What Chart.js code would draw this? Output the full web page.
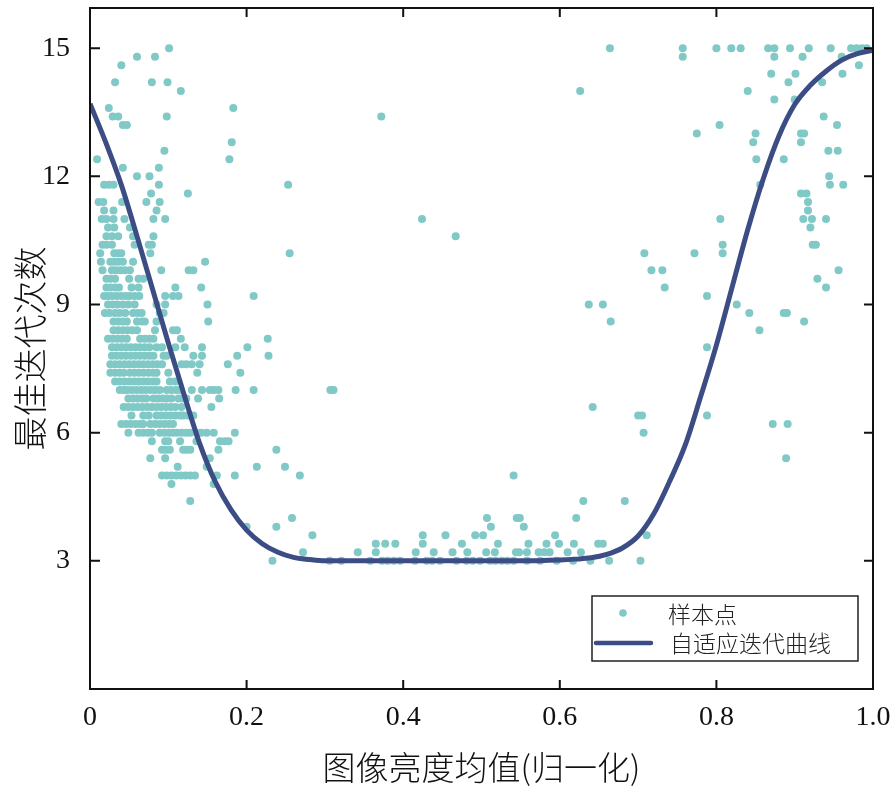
<!DOCTYPE html>
<html>
<head>
<meta charset="utf-8">
<script src="https://cdn.jsdelivr.net/npm/chart.js@4.4.1/dist/chart.umd.min.js"></script>
<style>
  html, body { margin: 0; padding: 0; background: #fff; }
  canvas { display: block; }
</style>
</head>
<body>
<canvas id="chart" width="893" height="790"></canvas>
<script>
// Подписи и деления осей
const xTickLabels = ['0', '0.2', '0.4', '0.6', '0.8', '1.0'];
const xTickValues = [0, 0.2, 0.4, 0.6, 0.8, 1.0];
const yTickValues = [3, 6, 9, 12, 15];
const legendLabels = ['样本点', '自适应迭代曲线'];

// Точки выборки: [y, [x, x, ...]] — левое скопление
const leftRows = [
  [15.0, [0.101]],
  [14.8, [0.060, 0.083]],
  [14.6, [0.040]],
  [14.2, [0.032, 0.079, 0.099]],
  [14.0, [0.116]],
  [13.6, [0.024, 0.183]],
  [13.4, [0.029, 0.036, 0.098]],
  [13.2, [0.042, 0.047]],
  [12.8, [0.181]],
  [12.6, [0.095]],
  [12.4, [0.009, 0.178]],
  [12.2, [0.042, 0.088]],
  [12.0, [0.060, 0.076]],
  [11.8, [0.018, 0.024, 0.030, 0.088, 0.253]],
  [11.6, [0.078, 0.125]],
  [11.4, [0.011, 0.017, 0.041, 0.072, 0.089]],
  [11.2, [0.018, 0.030, 0.085]],
  [11.0, [0.015, 0.021, 0.030, 0.044, 0.081, 0.096]],
  [10.8, [0.023, 0.031, 0.051]],
  [10.6, [0.021, 0.028, 0.036, 0.055, 0.081]],
  [10.4, [0.016, 0.021, 0.028, 0.057, 0.075, 0.079]],
  [10.2, [0.013, 0.031, 0.036, 0.040, 0.077, 0.255]],
  [10.0, [0.014, 0.026, 0.031, 0.036, 0.042, 0.055, 0.147]],
  [9.8, [0.016, 0.028, 0.033, 0.039, 0.045, 0.051, 0.091, 0.126, 0.132]],
  [9.6, [0.021, 0.026, 0.032, 0.050, 0.062, 0.068]],
  [9.4, [0.021, 0.026, 0.032, 0.037, 0.053, 0.062, 0.109, 0.142]],
  [9.2, [0.018, 0.023, 0.028, 0.034, 0.040, 0.046, 0.051, 0.057, 0.063, 0.096, 0.106, 0.113, 0.209]],
  [9.0, [0.023, 0.029, 0.035, 0.042, 0.049, 0.057, 0.085, 0.096, 0.150]],
  [8.8, [0.019, 0.025, 0.032, 0.038, 0.045, 0.055, 0.061, 0.066, 0.089, 0.094]],
  [8.6, [0.030, 0.036, 0.042, 0.047, 0.060, 0.066, 0.070, 0.085, 0.151]],
  [8.4, [0.030, 0.036, 0.042, 0.048, 0.054, 0.060, 0.083, 0.106, 0.111]],
  [8.2, [0.023, 0.029, 0.035, 0.041, 0.047, 0.064, 0.070, 0.076, 0.081, 0.116, 0.227]],
  [8.0, [0.028, 0.034, 0.040, 0.046, 0.052, 0.058, 0.064, 0.070, 0.076, 0.085, 0.092, 0.109, 0.121, 0.143, 0.201]],
  [7.8, [0.028, 0.034, 0.040, 0.046, 0.052, 0.058, 0.064, 0.070, 0.076, 0.081, 0.094, 0.098, 0.132, 0.143, 0.188, 0.228]],
  [7.6, [0.026, 0.032, 0.038, 0.044, 0.050, 0.056, 0.062, 0.068, 0.074, 0.080, 0.086, 0.092, 0.117, 0.123, 0.130, 0.140, 0.176]],
  [7.4, [0.026, 0.032, 0.038, 0.043, 0.051, 0.057, 0.063, 0.069, 0.075, 0.081, 0.085, 0.100, 0.137, 0.192]],
  [7.2, [0.032, 0.038, 0.044, 0.050, 0.056, 0.062, 0.068, 0.074, 0.080, 0.085, 0.102, 0.109]],
  [7.0, [0.038, 0.043, 0.047, 0.053, 0.059, 0.065, 0.071, 0.077, 0.083, 0.089, 0.098, 0.104, 0.110, 0.115, 0.130, 0.143, 0.153, 0.158, 0.164, 0.186, 0.209]],
  [6.8, [0.049, 0.055, 0.061, 0.067, 0.072, 0.081, 0.087, 0.093, 0.098, 0.104, 0.113, 0.118, 0.123, 0.138, 0.165]],
  [6.6, [0.043, 0.049, 0.055, 0.061, 0.067, 0.073, 0.079, 0.085, 0.091, 0.097, 0.103, 0.109, 0.117, 0.155]],
  [6.4, [0.053, 0.068, 0.075, 0.085, 0.091, 0.097, 0.103, 0.109, 0.115, 0.119, 0.125, 0.132]],
  [6.2, [0.040, 0.046, 0.052, 0.058, 0.064, 0.068, 0.077, 0.083, 0.089, 0.095, 0.101, 0.106]],
  [6.0, [0.049, 0.062, 0.068, 0.074, 0.079, 0.089, 0.095, 0.101, 0.106, 0.111, 0.117, 0.123, 0.128, 0.136, 0.142, 0.149, 0.158, 0.185]],
  [5.8, [0.079, 0.096, 0.100, 0.115, 0.136, 0.166, 0.172, 0.177]],
  [5.6, [0.092, 0.097, 0.102, 0.119, 0.123, 0.128, 0.164, 0.238]],
  [5.4, [0.077, 0.096, 0.153]],
  [5.2, [0.112, 0.149, 0.213, 0.249]],
  [5.0, [0.092, 0.098, 0.104, 0.110, 0.116, 0.122, 0.128, 0.134, 0.162, 0.185, 0.268]],
  [4.8, [0.104, 0.158]],
  [4.4, [0.128]],
  [4.0, [0.258]],
  [3.8, [0.200, 0.238]],
  [3.6, [0.284]],
  [3.2, [0.272]],
  [3.0, [0.233]]
];

// Середина (нижняя полка и одиночные точки)
const middleRows = [
  [13.4, [0.372]],
  [11.0, [0.424]],
  [10.6, [0.467]],
  [7.0, [0.307, 0.311]],
  [5.0, [0.541]],
  [4.4, [0.630, 0.683]],
  [4.0, [0.507, 0.545, 0.549, 0.621]],
  [3.8, [0.512, 0.554]],
  [3.6, [0.425, 0.454, 0.492, 0.502, 0.594, 0.711]],
  [3.4, [0.365, 0.377, 0.390, 0.425, 0.475, 0.521, 0.560, 0.583, 0.599, 0.618, 0.649, 0.655]],
  [3.2, [0.342, 0.365, 0.416, 0.439, 0.463, 0.482, 0.506, 0.517, 0.544, 0.548, 0.558, 0.573, 0.580, 0.587, 0.610, 0.627]],
  [3.0, [0.306, 0.321, 0.358, 0.373, 0.380, 0.388, 0.396, 0.415, 0.430, 0.437, 0.447, 0.468, 0.481, 0.489, 0.498, 0.511, 0.518, 0.526, 0.533, 0.541, 0.558, 0.575, 0.596, 0.617, 0.639, 0.663, 0.703]]
];

// Правое скопление
const rightRows = [
  [15.0, [0.664, 0.757, 0.800, 0.819, 0.831, 0.866, 0.874, 0.894, 0.918, 0.946, 0.972, 0.979, 0.986, 0.992]],
  [14.8, [0.757, 0.874, 0.910, 0.960]],
  [14.6, [0.982]],
  [14.4, [0.870, 0.901, 0.961]],
  [14.2, [0.892, 0.935]],
  [14.0, [0.626, 0.840]],
  [13.8, [0.874, 0.900]],
  [13.4, [0.937]],
  [13.2, [0.804, 0.954]],
  [13.0, [0.775, 0.850, 0.908, 0.912]],
  [12.8, [0.847, 0.908]],
  [12.6, [0.943, 0.955]],
  [12.4, [0.851, 0.886]],
  [12.0, [0.944]],
  [11.8, [0.856, 0.945, 0.962]],
  [11.6, [0.908, 0.915]],
  [11.4, [0.917]],
  [11.2, [0.917]],
  [11.0, [0.805, 0.911, 0.922, 0.940]],
  [10.8, [0.920]],
  [10.4, [0.808, 0.923, 0.927]],
  [10.2, [0.708, 0.772, 0.808]],
  [9.8, [0.717, 0.731, 0.956]],
  [9.6, [0.929]],
  [9.4, [0.734, 0.940]],
  [9.2, [0.788]],
  [9.0, [0.637, 0.655, 0.826]],
  [8.8, [0.842, 0.886, 0.890]],
  [8.6, [0.665, 0.912]],
  [8.4, [0.855]],
  [8.0, [0.788]],
  [6.6, [0.642]],
  [6.4, [0.700, 0.705, 0.788]],
  [6.2, [0.872, 0.891]],
  [6.0, [0.707]],
  [5.4, [0.889]]
];

// Адаптивная кривая
const curveX = [0, 0.02, 0.04, 0.06, 0.08, 0.10, 0.12, 0.14, 0.16, 0.18, 0.20, 0.22, 0.24, 0.26, 0.28, 0.30,
  0.35, 0.40, 0.45, 0.50, 0.55, 0.60, 0.62, 0.64, 0.66, 0.68, 0.70, 0.72, 0.74, 0.76, 0.78, 0.80,
  0.82, 0.84, 0.86, 0.88, 0.90, 0.92, 0.94, 0.96, 0.98, 1.00];
const curveY = [13.7, 12.8, 11.8, 10.6, 9.35, 8.1, 6.9, 5.75, 4.85, 4.2, 3.72, 3.4, 3.2, 3.08, 3.03, 3.0,
  3.0, 3.0, 3.0, 3.0, 3.0, 3.02, 3.04, 3.07, 3.15, 3.3, 3.58, 4.1, 4.85, 5.7, 6.85, 8.05,
  9.4, 10.75, 11.95, 12.95, 13.68, 14.13, 14.46, 14.72, 14.87, 14.95];

const sampleColor = '#80c9c6';
const curveColor = '#3c4c85';
const cjkFont = '"Noto Sans CJK SC", "Noto Sans CJK JP", sans-serif';
const numFont = '"Liberation Serif", "DejaVu Serif", serif';

function rowsToPoints(rows) {
  const pts = [];
  rows.forEach(r => r[1].forEach(x => pts.push({ x: x, y: r[0] })));
  return pts;
}

const samplePoints = rowsToPoints(leftRows).concat(rowsToPoints(middleRows), rowsToPoints(rightRows));
const curvePoints = curveX.map((x, i) => ({ x: x, y: curveY[i] }));

// убираем лишние отступы, которые шкала добавляет под крайние подписи
function clearScalePadding(scale) {
  scale.paddingTop = 0;
  scale.paddingBottom = 0;
  scale.paddingLeft = 0;
  scale.paddingRight = 0;
}

// Рамка, внутренние засечки и легенда
const frameAndLegend = {
  id: 'frameAndLegend',
  afterDraw(chart) {
    const { ctx, chartArea: a, scales } = chart;
    ctx.save();
    ctx.strokeStyle = '#111';
    ctx.lineWidth = 2;
    ctx.strokeRect(a.left, a.top, a.right - a.left, a.bottom - a.top);

    ctx.beginPath();
    xTickValues.forEach(v => {
      if (v === 0 || v === 1) return;
      const px = scales.x.getPixelForValue(v);
      ctx.moveTo(px, a.bottom); ctx.lineTo(px, a.bottom - 9);
      ctx.moveTo(px, a.top); ctx.lineTo(px, a.top + 9);
    });
    yTickValues.forEach(v => {
      const py = scales.y.getPixelForValue(v);
      ctx.moveTo(a.left, py); ctx.lineTo(a.left + 10, py);
      ctx.moveTo(a.right, py); ctx.lineTo(a.right - 9, py);
    });
    ctx.stroke();

    // легенда
    const bx = a.right - 281, by = a.bottom - 93, bw = 266, bh = 65;
    ctx.fillStyle = '#fff';
    ctx.fillRect(bx, by, bw, bh);
    ctx.lineWidth = 1.5;
    ctx.strokeStyle = '#222';
    ctx.strokeRect(bx, by, bw, bh);

    const ds = chart.data.datasets;
    ctx.fillStyle = ds[0].backgroundColor;
    ctx.beginPath();
    ctx.arc(bx + 31, by + 17, 3.8, 0, Math.PI * 2);
    ctx.fill();

    ctx.strokeStyle = ds[1].borderColor;
    ctx.lineWidth = 4.5;
    ctx.lineCap = 'round';
    ctx.beginPath();
    ctx.moveTo(bx + 4, by + 47);
    ctx.lineTo(bx + 59, by + 47);
    ctx.stroke();

    ctx.fillStyle = '#222';
    ctx.font = '300 23px ' + cjkFont;
    ctx.textBaseline = 'middle';
    ctx.textAlign = 'left';
    ctx.fillText(ds[0].label, bx + 76, by + 18);
    ctx.fillText(ds[1].label, bx + 78, by + 47);
    ctx.restore();
  }
};

new Chart(document.getElementById('chart'), {
  type: 'scatter',
  data: {
    datasets: [
      {
        label: legendLabels[0],
        data: samplePoints,
        backgroundColor: sampleColor,
        borderWidth: 0,
        pointRadius: 4,
        pointHoverRadius: 4,
        order: 2
      },
      {
        type: 'line',
        label: legendLabels[1],
        data: curvePoints,
        borderColor: curveColor,
        backgroundColor: curveColor,
        borderWidth: 5,
        pointRadius: 0,
        fill: false,
        showLine: true,
        cubicInterpolationMode: 'monotone',
        order: 1
      }
    ]
  },
  options: {
    responsive: false,
    animation: false,
    layout: { padding: { top: 8, right: 20, left: 0, bottom: 0 } },
    plugins: {
      legend: { display: false },
      tooltip: { enabled: false }
    },
    scales: {
      x: {
        type: 'linear',
        min: 0,
        max: 1,
        grid: { display: false, drawTicks: false },
        border: { display: false },
        ticks: {
          stepSize: 0.2,
          padding: 12,
          color: '#111',
          maxRotation: 0,
          font: { family: numFont, size: 28 },
          callback: v => xTickLabels[Math.round(v / 0.2)]
        },
        title: {
          display: true,
          text: '图像亮度均值(归一化)',
          color: '#111',
          font: { family: cjkFont, size: 33, weight: '300' },
          padding: { top: 0, bottom: 3 }
        },
        afterFit: scale => { scale.height = 101; clearScalePadding(scale); }
      },
      y: {
        type: 'linear',
        min: 0,
        max: 15.94,
        grid: { display: false, drawTicks: false },
        border: { display: false },
        ticks: {
          stepSize: 3,
          includeBounds: false,
          padding: 20,
          color: '#111',
          font: { family: numFont, size: 28 }
        },
        afterBuildTicks: scale => {
          scale.ticks = yTickValues.map(v => ({ value: v }));
        },
        title: {
          display: true,
          text: '最佳迭代次数',
          color: '#111',
          font: { family: cjkFont, size: 34, weight: '300' },
          padding: { top: 10, bottom: 0 }
        },
        afterFit: scale => { scale.width = 90; clearScalePadding(scale); }
      }
    }
  },
  plugins: [frameAndLegend]
});
</script>
</body>
</html>
